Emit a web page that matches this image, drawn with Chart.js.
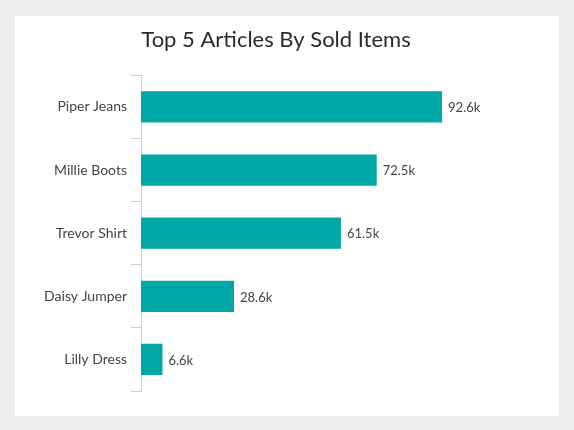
<!DOCTYPE html>
<html>
<head>
<meta charset="utf-8">
<script src="https://cdn.jsdelivr.net/npm/chart.js@4"></script>
<style>
  html, body { margin: 0; padding: 0; background: #efefef; }
  #card { position: absolute; left: 15px; top: 16px; width: 544px; height: 400px; background: #fff; }
</style>
</head>
<body>
<div id="card"><canvas id="barchart" width="544" height="400"></canvas></div>
<script>
var articles = ['Piper Jeans', 'Millie Boots', 'Trevor Shirt', 'Daisy Jumper', 'Lilly Dress'];
var soldItems = [92600, 72500, 61500, 28600, 6600];

// writes "92.6k" next to each bar
var valueLabels = {
    id: 'valueLabels',
    afterDatasetsDraw: function(chart) {
        var ctx = chart.ctx;
        var meta = chart.getDatasetMeta(0);
        ctx.save();
        ctx.font = '13px Lato';
        ctx.fillStyle = '#444';
        ctx.textBaseline = 'middle';
        ctx.textAlign = 'left';
        meta.data.forEach(function(bar, i) {
            ctx.fillText((soldItems[i] / 1000).toFixed(1) + 'k', bar.x + 6, bar.y + 1);
        });
        ctx.restore();
    }
};

var ctx = document.getElementById('barchart').getContext('2d');
var myChart = new Chart(ctx, {
    type: 'bar',
    data: {
        labels: articles,
        datasets: [{
            label: 'Sold Items',
            data: soldItems,
            backgroundColor: '#01a6a6',
            categoryPercentage: 0.8,
            barPercentage: 0.62
        }]
    },
    options: {
        indexAxis: 'y',
        responsive: false,
        animation: false,
        layout: { padding: { top: 11, right: 22, bottom: 25, left: 0 } },
        plugins: {
            legend: { display: false },
            tooltip: { enabled: false },
            title: {
                display: true,
                text: 'Top 5 Articles By Sold Items',
                color: '#2b2b2b',
                font: { family: 'Lato', size: 22, weight: 'normal' },
                padding: { top: 0, bottom: 22 }
            }
        },
        scales: {
            x: { display: false, min: 0, max: 121800 },
            y: {
                afterFit: function(scale) { scale.width = 126; },
                border: { color: '#c9d2dc' },
                grid: { drawOnChartArea: false, tickLength: 10, color: '#c9d2dc' },
                ticks: { color: '#444', padding: 4, font: { family: 'Lato', size: 14 } }
            }
        }
    },
    plugins: [valueLabels]
});
</script>
</body>
</html>
